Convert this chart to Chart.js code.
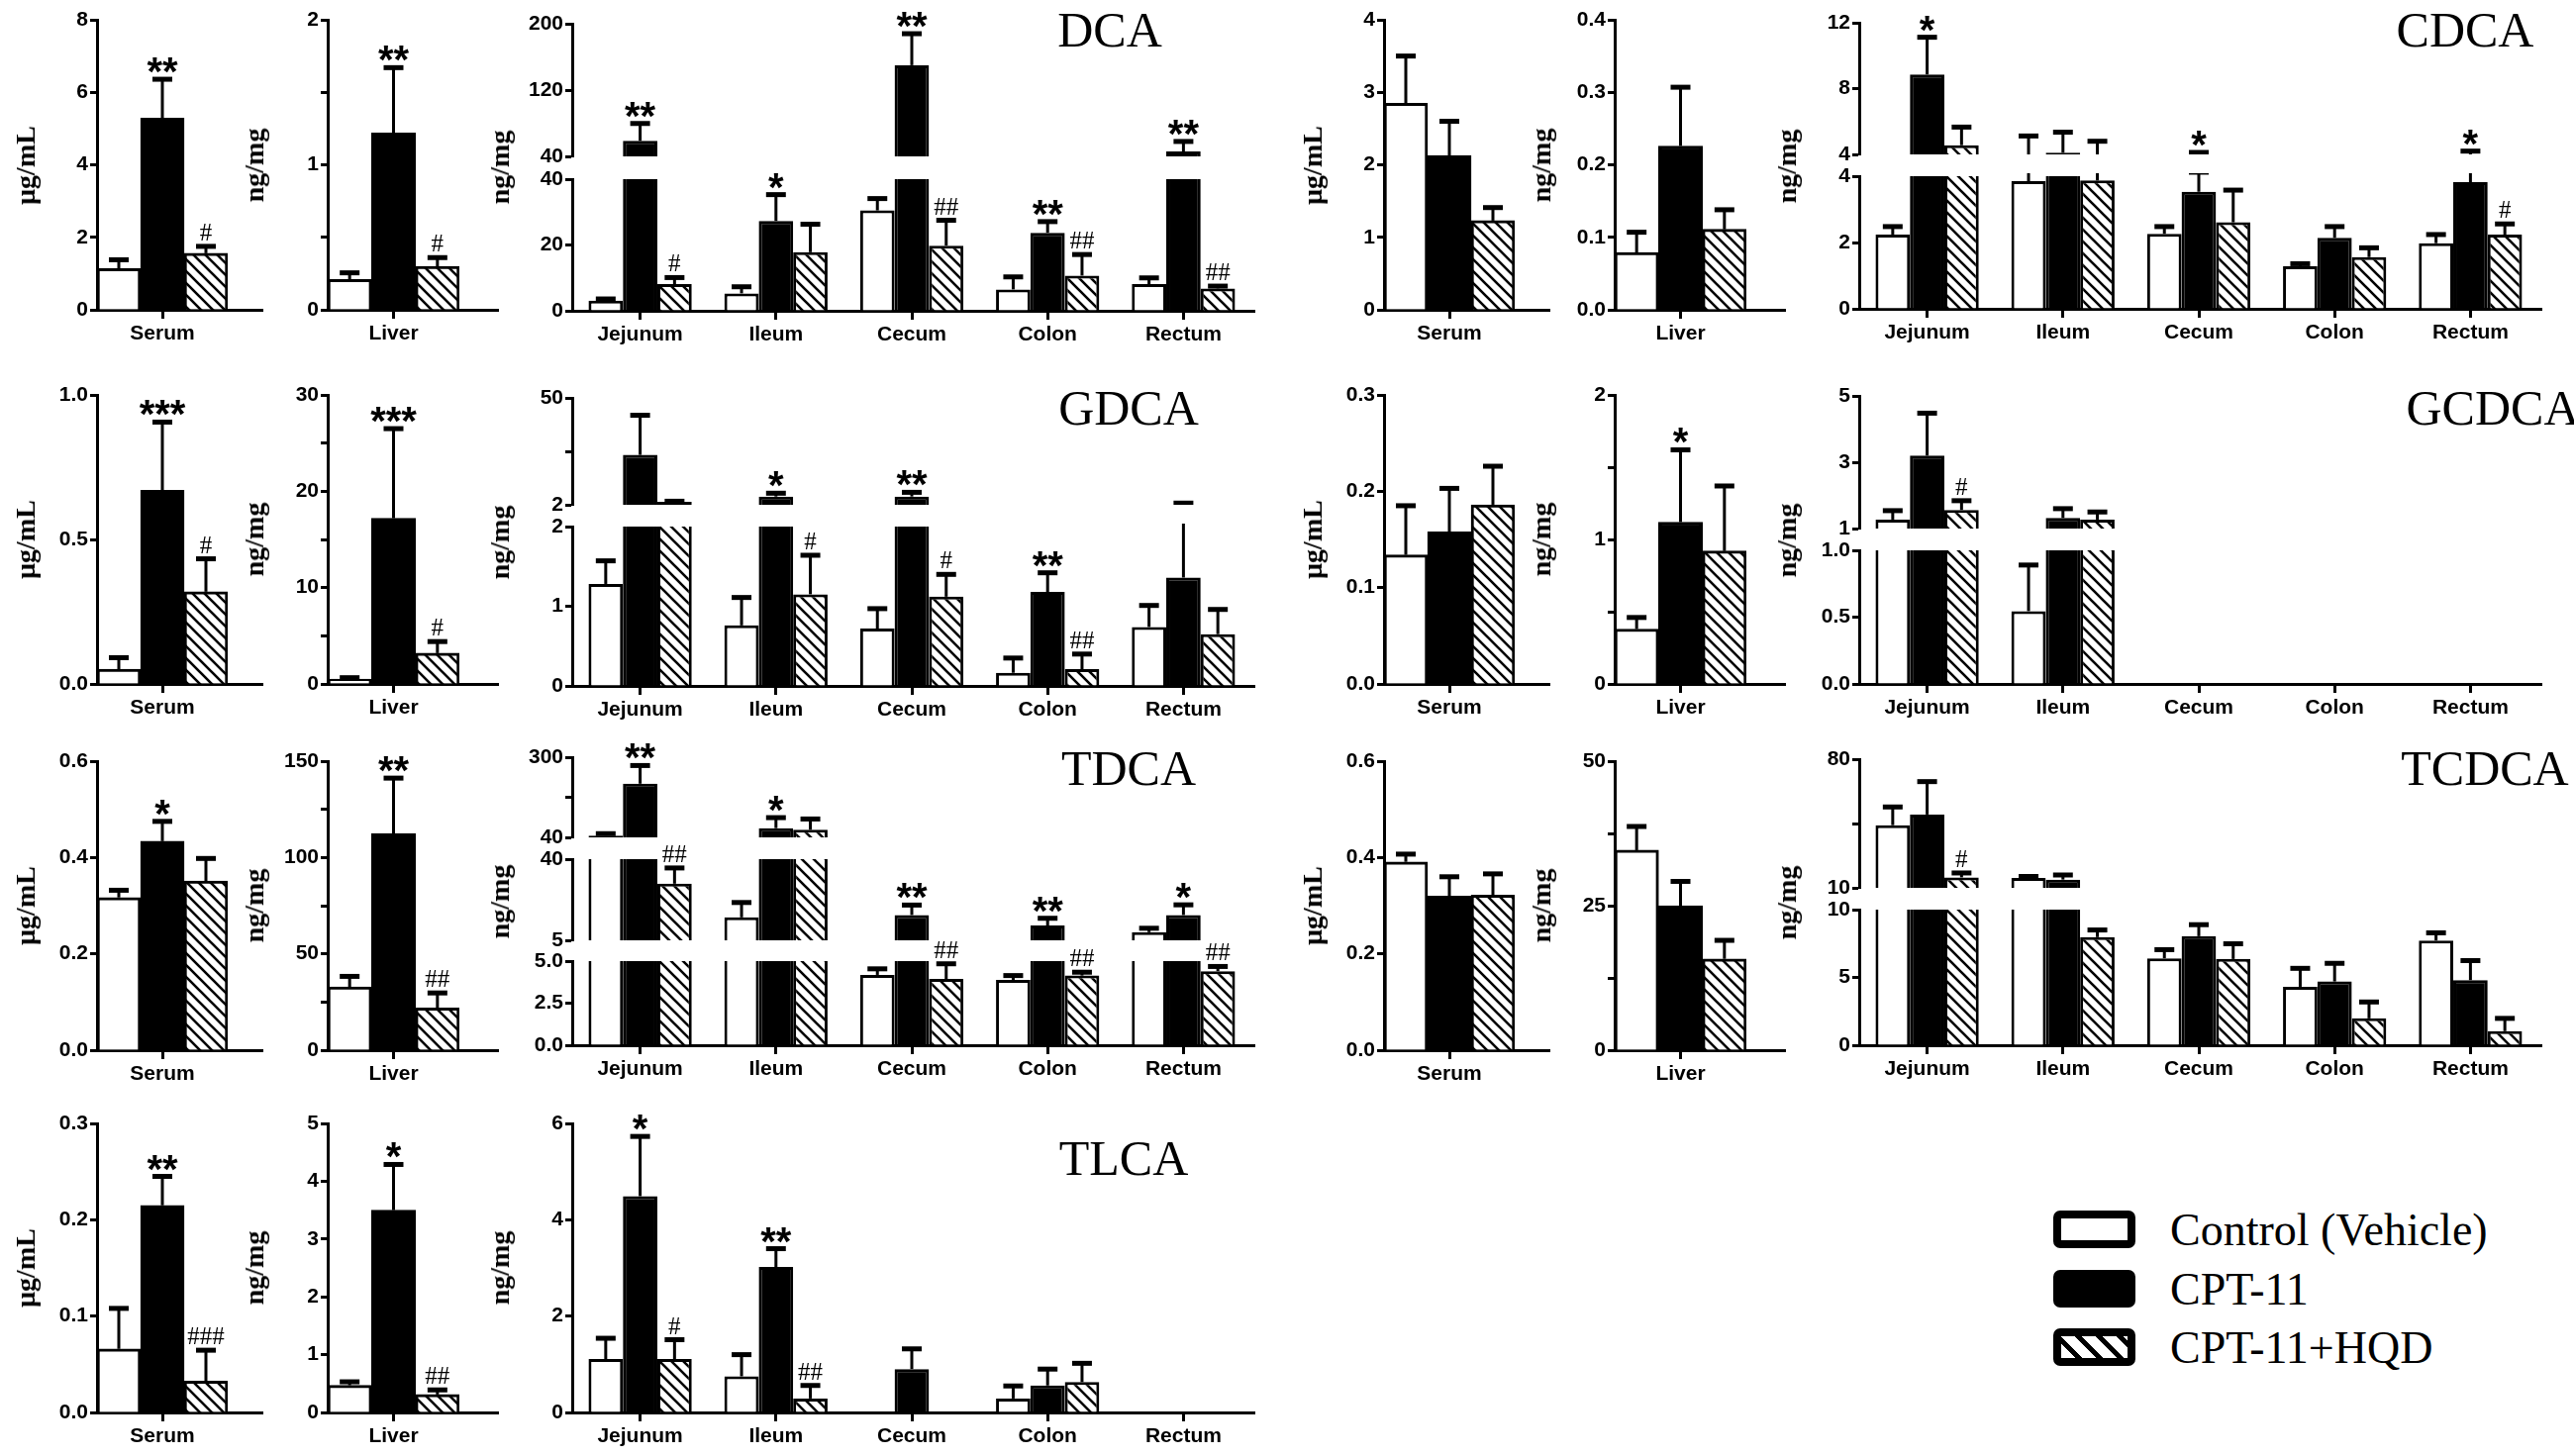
<!DOCTYPE html>
<html>
<head>
<meta charset="utf-8">
<title>Bile acids</title>
<script src="https://cdn.jsdelivr.net/npm/chart.js@4.4.1/dist/chart.umd.min.js"></script>
<style>
  body { margin: 0; background: #fff; }
  #page { position: relative; width: 2600px; height: 1471px; overflow: hidden; background: #fff; }
  #page canvas { position: absolute; }
  .title { position: absolute; font-family: "Liberation Serif", "Times New Roman", serif; font-size: 50px; transform: translate(-50%, -50%); white-space: nowrap; }
  .unit { position: absolute; font-family: "Liberation Serif", "Times New Roman", serif; font-weight: bold; font-size: 28px; transform: translate(-50%, -50%) rotate(-90deg); white-space: nowrap; }
  .lgbox { position: absolute; width: 83px; height: 38px; box-sizing: border-box; border: 8px solid #000; border-radius: 7px; }
  .lgtext { position: absolute; font-family: "Liberation Serif", "Times New Roman", serif; font-size: 46px; transform: translateY(-50%); white-space: nowrap; }
</style>
</head>
<body>
<div id="page"></div>
<script>
// ---- data ----
const groups = ['Control (Vehicle)', 'CPT-11', 'CPT-11+HQD'];
const serumCat = ['Serum'];
const liverCat = ['Liver'];
const gutCat = ['Jejunum', 'Ileum', 'Cecum', 'Colon', 'Rectum'];

// DCA
const dcaSerum = [1.14, 5.29, 1.56];
const dcaSerumSem = [0.24, 1.07, 0.19];
const dcaSerumSig = ['', '**', '#'];
const dcaSerumY = [0, 8, 2, ['0', '2', '4', '6', '8']];
const dcaLiver = [0.21, 1.22, 0.30];
const dcaLiverSem = [0.045, 0.45, 0.06];
const dcaLiverSig = ['', '**', '#'];
const dcaLiverY = [0, 2, 0.5, ['0', '', '1', '', '2']];
const dcaCtrl = [3.1, 5.3, 30.5, 6.5, 8.1];
const dcaCtrlSem = [0.5, 2.0, 3.6, 3.8, 1.9];
const dcaCpt = [58.7, 27.3, 150, 23.7, 46];
const dcaCptSem = [21, 8, 38, 3.4, 12];
const dcaCptSig = ['**', '*', '**', '**', '**'];
const dcaHqd = [8.1, 17.8, 19.8, 10.7, 6.8];
const dcaHqdSem = [2.0, 8.5, 7.7, 6.4, 0.7];
const dcaHqdSig = ['#', '', '##', '##', '##'];
const dcaGutY = [[0, 40, 20, ['0', '20', '40']], [40, 200, 80, ['40', '120', '200']]];

// CDCA
const cdcaSerum = [2.85, 2.13, 1.23];
const cdcaSerumSem = [0.65, 0.47, 0.18];
const cdcaSerumSig = ['', '', ''];
const cdcaSerumY = [0, 4, 1, ['0', '1', '2', '3', '4']];
const cdcaLiver = [0.079, 0.226, 0.111];
const cdcaLiverSem = [0.028, 0.081, 0.027];
const cdcaLiverSig = ['', '', ''];
const cdcaLiverY = [0, 0.4, 0.1, ['0.0', '0.1', '0.2', '0.3', '0.4']];
const cdcaCtrl = [2.24, 3.85, 2.26, 1.28, 1.98];
const cdcaCtrlSem = [0.24, 1.27, 0.22, 0.08, 0.26];
const cdcaCpt = [8.86, 4.1, 3.53, 2.14, 3.82];
const cdcaCptSem = [2.26, 1.25, 0.59, 0.34, 0.38];
const cdcaCptSig = ['*', '', '*', '', '*'];
const cdcaHqd = [4.56, 3.87, 2.61, 1.56, 2.24];
const cdcaHqdSem = [1.1, 0.93, 0.97, 0.28, 0.32];
const cdcaHqdSig = ['', '', '', '', '#'];
const cdcaGutY = [[0, 4, 2, ['0', '2', '4']], [4, 12, 4, ['4', '8', '12']]];

// GDCA
const gdcaSerum = [0.051, 0.67, 0.319];
const gdcaSerumSem = [0.04, 0.236, 0.114];
const gdcaSerumSig = ['', '***', '#'];
const gdcaSerumY = [0, 1, 0.5, ['0.0', '0.5', '1.0']];
const gdcaLiver = [0.5, 17.2, 3.2];
const gdcaLiverSem = [0.15, 9.3, 1.2];
const gdcaLiverSig = ['', '***', '#'];
const gdcaLiverY = [0, 30, 5, ['0', '', '10', '', '20', '', '30']];
const gdcaCtrl = [1.28, 0.76, 0.72, 0.165, 0.74];
const gdcaCtrlSem = [0.29, 0.35, 0.25, 0.185, 0.27];
const gdcaCpt = [24.4, 5.7, 5.7, 1.18, 1.36];
const gdcaCptSem = [17.8, 1.5, 1.9, 0.24, 1.4];
const gdcaCptSig = ['', '*', '**', '**', ''];
const gdcaHqd = [3.3, 1.15, 1.12, 0.21, 0.65];
const gdcaHqdSem = [0.3, 0.49, 0.28, 0.19, 0.31];
const gdcaHqdSig = ['', '#', '#', '##', ''];
const gdcaGutY = [[0, 2, 1, ['0', '1', '2']], [2, 50, 24, ['2', '', '50']]];

// GCDCA
const gcdcaSerum = [0.134, 0.158, 0.186];
const gcdcaSerumSem = [0.051, 0.045, 0.04];
const gcdcaSerumSig = ['', '', ''];
const gcdcaSerumY = [0, 0.3, 0.1, ['0.0', '0.1', '0.2', '0.3']];
const gcdcaLiver = [0.38, 1.12, 0.92];
const gcdcaLiverSem = [0.08, 0.5, 0.45];
const gcdcaLiverSig = ['', '*', ''];
const gcdcaLiverY = [0, 2, 0.5, ['0', '', '1', '', '2']];
const gcdcaCtrl = [1.27, 0.545, null, null, null];
const gcdcaCtrlSem = [0.27, 0.345, 0, 0, 0];
const gcdcaCpt = [3.2, 1.32, null, null, null];
const gcdcaCptSem = [1.28, 0.28, 0, 0, 0];
const gcdcaCptSig = ['', '', '', '', ''];
const gcdcaHqd = [1.56, 1.27, null, null, null];
const gcdcaHqdSem = [0.28, 0.23, 0, 0, 0];
const gcdcaHqdSig = ['#', '', '', '', ''];
const gcdcaGutY = [[0, 1, 0.5, ['0.0', '0.5', '1.0']], [1, 5, 2, ['1', '3', '5']]];

// TDCA
const tdcaSerum = [0.317, 0.434, 0.351];
const tdcaSerumSem = [0.015, 0.041, 0.047];
const tdcaSerumSig = ['', '*', ''];
const tdcaSerumY = [0, 0.6, 0.2, ['0.0', '0.2', '0.4', '0.6']];
const tdcaLiver = [32.8, 112.4, 21.9];
const tdcaLiverSem = [5.5, 28.8, 7.8];
const tdcaLiverSig = ['', '**', '##'];
const tdcaLiverY = [0, 150, 25, ['0', '', '50', '', '100', '', '150']];
const tdcaCtrl = [46, 14.9, 4.18, 3.88, 8.5];
const tdcaCtrlSem = [6, 6.4, 0.36, 0.26, 1.7];
const tdcaCpt = [214, 70, 15.9, 11.4, 15.9];
const tdcaCptSem = [59, 34, 4.3, 3.1, 4.4];
const tdcaCptSig = ['**', '*', '**', '**', '*'];
const tdcaHqd = [29.4, 64.6, 3.94, 4.14, 4.4];
const tdcaHqdSem = [6.8, 35, 0.9, 0.2, 0.28];
const tdcaHqdSig = ['##', '', '##', '##', '##'];
const tdcaGutY = [[0, 5, 2.5, ['0.0', '2.5', '5.0']], [5, 40, 35, ['5', '40']], [40, 300, 130, ['40', '', '300']]];

// TCDCA
const tcdcaSerum = [0.391, 0.32, 0.322];
const tcdcaSerumSem = [0.016, 0.04, 0.044];
const tcdcaSerumSig = ['', '', ''];
const tcdcaSerumY = [0, 0.6, 0.2, ['0.0', '0.2', '0.4', '0.6']];
const tcdcaLiver = [34.6, 25.0, 15.8];
const tcdcaLiverSem = [4.1, 4.2, 3.2];
const tcdcaLiverSig = ['', '', ''];
const tcdcaLiverY = [0, 50, 12.5, ['0', '', '25', '', '50']];
const tcdcaCtrl = [44.1, 15.4, 6.41, 4.31, 7.72];
const tcdcaCtrlSem = [9.9, 0.8, 0.64, 1.36, 0.57];
const tcdcaCpt = [49.9, 14.5, 8.04, 4.7, 4.8];
const tcdcaCptSem = [17.9, 2.5, 0.85, 1.34, 1.44];
const tcdcaCptSig = ['', '', '', '', ''];
const tcdcaHqd = [15.7, 7.97, 6.36, 1.98, 1.04];
const tcdcaHqdSem = [2.4, 0.53, 1.12, 1.21, 0.94];
const tcdcaHqdSig = ['#', '', '', '', ''];
const tcdcaGutY = [[0, 10, 5, ['0', '5', '10']], [10, 80, 35, ['10', '', '80']]];

// TLCA
const tlcaSerum = [0.066, 0.215, 0.0326];
const tlcaSerumSem = [0.042, 0.03, 0.032];
const tlcaSerumSig = ['', '**', '###'];
const tlcaSerumY = [0, 0.3, 0.1, ['0.0', '0.1', '0.2', '0.3']];
const tlcaLiver = [0.47, 3.5, 0.31];
const tlcaLiverSem = [0.06, 0.79, 0.08];
const tlcaLiverSig = ['', '*', '##'];
const tlcaLiverY = [0, 5, 1, ['0', '1', '2', '3', '4', '5']];
const tlcaCtrl = [1.11, 0.75, null, 0.29, null];
const tlcaCtrlSem = [0.43, 0.45, 0, 0.26, 0];
const tlcaCpt = [4.49, 3.02, 0.9, 0.56, null];
const tlcaCptSem = [1.24, 0.38, 0.42, 0.34, 0];
const tlcaCptSig = ['*', '**', '', '', ''];
const tlcaHqd = [1.11, 0.29, null, 0.63, null];
const tlcaHqdSem = [0.4, 0.27, 0, 0.39, 0];
const tlcaHqdSig = ['#', '##', '', '', ''];
const tlcaGutY = [[0, 6, 2, ['0', '2', '4', '6']]];

// ---- layout (pixels) ----
const SER = { axis: 98, right: 230, end: 266, cat: 1.0 };
const LIV = { axis: 331, right: 464, end: 504, cat: 1.0 };
const GUT = { axis: 578, right: 1264, end: 1268, cat: 0.76 };
const rowPx = [[313, 20], [691, 399], [1061, 769], [1427, 1135]];
const PAD_TOP = 44, PAD_BOT = 16, X_H = 46, Y_W = 64;

const page = document.getElementById('page');
Chart.defaults.font.family = '"Liberation Sans", Arial, sans-serif';
Chart.defaults.color = '#000';

// hatch tile for CPT-11+HQD
const tile = document.createElement('canvas');
tile.width = 12; tile.height = 12;
(function () {
  const g = tile.getContext('2d');
  g.fillStyle = '#fff'; g.fillRect(0, 0, 12, 12);
  g.strokeStyle = '#000'; g.lineWidth = 2.6;
  g.beginPath();
  g.moveTo(-3, -3); g.lineTo(15, 15);
  g.moveTo(-3, 9); g.lineTo(3, 15);
  g.moveTo(9, -3); g.lineTo(15, 3);
  g.stroke();
})();

// upper SEM bars + significance marks
const errorBars = {
  id: 'errorBars',
  afterDatasetsDraw(chart) {
    const c = chart.ctx, a = chart.chartArea, ys = chart.scales.y, xs = chart.scales.x;
    const n = chart.data.labels.length;
    chart.data.datasets.forEach(function (ds, i) {
      const catW = (xs.right - xs.left) / n * ds.categoryPercentage;
      const bw = catW / 3;
      ds.full.forEach(function (v, j) {
        if (v == null) return;
        const top = v + ds.errs[j];
        // nothing of this bar's SEM falls inside this segment
        if (top < ys.min || v >= ys.max) return;
        const py = ys.getPixelForValue(top);
        const x = xs.getPixelForValue(j) - catW / 2 + bw * (i + 0.5);
        c.save();
        c.beginPath();
        c.rect(a.left, a.top - 3, a.right - a.left, a.bottom - a.top + 3);
        c.clip();
        c.strokeStyle = '#000';
        c.lineWidth = 3;
        c.beginPath();
        c.moveTo(x, ys.getPixelForValue(Math.max(v, ys.min)));
        c.lineTo(x, py);
        c.stroke();
        c.lineWidth = 5;
        c.beginPath();
        c.moveTo(x - 10, py);
        c.lineTo(x + 10, py);
        c.stroke();
        c.restore();
        const s = ds.sig ? ds.sig[j] : '';
        if (s && top <= ys.max) {
          c.save();
          c.fillStyle = '#000';
          c.textAlign = 'center';
          c.textBaseline = 'alphabetic';
          if (s.indexOf('*') >= 0) {
            c.font = 'bold 40px "Liberation Sans", Arial, sans-serif';
            c.fillText(s, x, py + 6);
          } else {
            c.font = '25px "Liberation Serif", "Times New Roman", serif';
            c.fillText(s, x, py - 6);
          }
          c.restore();
        }
      });
    });
  }
};

// x axis line runs on past the last bar
const axisExt = {
  id: 'axisExt',
  afterDraw(chart, args, opts) {
    if (!chart.options.scales.x.display || !opts.len) return;
    const c = chart.ctx, a = chart.chartArea;
    c.save();
    c.strokeStyle = '#000';
    c.lineWidth = 3;
    c.beginPath();
    c.moveTo(a.right - 1, a.bottom + 0.5);
    c.lineTo(a.right + opts.len, a.bottom + 0.5);
    c.stroke();
    c.restore();
  }
};

function panel(bx, geo, y0, y1, yAx, labels, sets, showX) {
  const cv = document.createElement('canvas');
  const extra = geo.end - geo.right + 6;
  cv.width = Y_W + (geo.right - geo.axis) + extra;
  cv.height = PAD_TOP + (y0 - y1) + (showX ? X_H : PAD_BOT);
  cv.style.left = (bx + geo.axis - Y_W) + 'px';
  cv.style.top = (y1 - PAD_TOP) + 'px';
  page.appendChild(cv);
  const fills = ['#fff', '#000', cv.getContext('2d').createPattern(tile, 'repeat')];

  new Chart(cv, {
    type: 'bar',
    data: {
      labels: labels,
      datasets: sets.map(function (s, i) {
        return {
          label: groups[i],
          // a bar only shows in a segment if it rises above the segment floor
          data: s[0].map(function (v) { return (v != null && v > yAx[0]) ? v : null; }),
          full: s[0],
          errs: s[1],
          sig: s[2],
          backgroundColor: fills[i],
          borderColor: '#000',
          borderWidth: 3,
          borderSkipped: 'start',
          clip: 0,
          categoryPercentage: geo.cat,
          barPercentage: 1.0
        };
      })
    },
    options: {
      responsive: false,
      animation: false,
      events: [],
      layout: { padding: { top: PAD_TOP, bottom: showX ? 0 : PAD_BOT, left: 0, right: extra } },
      plugins: {
        legend: { display: false },
        tooltip: { enabled: false },
        axisExt: { len: geo.end - geo.right }
      },
      scales: {
        x: {
          display: showX,
          grid: { drawOnChartArea: false, offset: false, tickLength: 9, tickWidth: 3, tickColor: '#000' },
          border: { display: true, color: '#000', width: 3 },
          ticks: { font: { size: 21, weight: 'bold' }, color: '#000', padding: 3, maxRotation: 0, autoSkip: false },
          afterFit: function (s) { s.height = showX ? X_H : 0; }
        },
        y: {
          min: yAx[0],
          max: yAx[1],
          grid: { drawOnChartArea: false, tickLength: 7, tickWidth: 3, tickColor: '#000' },
          border: { display: true, color: '#000', width: 3 },
          ticks: {
            stepSize: yAx[2],
            autoSkip: false,
            font: { size: 21, weight: 'bold' },
            color: '#000',
            padding: 2,
            callback: function (v, i) { return yAx[3][i]; }
          },
          afterFit: function (s) { s.width = Y_W; }
        }
      }
    },
    plugins: [errorBars, axisExt]
  });
}

function text(cls, str, x, y) {
  const d = document.createElement('div');
  d.className = cls;
  d.textContent = str;
  d.style.left = x + 'px';
  d.style.top = y + 'px';
  page.appendChild(d);
}

function acid(name, bx, row, ser, liv, gut, gutY, gutPx, tPos) {
  const y0 = rowPx[row][0], y1 = rowPx[row][1];
  panel(bx, SER, y0, y1, ser[3], serumCat, [0, 1, 2].map(function (i) { return [[ser[0][i]], [ser[1][i]], [ser[2][i]]]; }), true);
  panel(bx, LIV, y0, y1, liv[3], liverCat, [0, 1, 2].map(function (i) { return [[liv[0][i]], [liv[1][i]], [liv[2][i]]]; }), true);
  gutY.forEach(function (ax, k) {
    panel(bx, GUT, gutPx[k][0], gutPx[k][1], ax, gutCat, gut, k === 0);
  });
  const mid = (y0 + y1) / 2;
  const gmid = (gutPx[0][0] + gutPx[gutPx.length - 1][1]) / 2;
  text('unit', 'μg/mL', bx + 26, mid);
  text('unit', 'ng/mg', bx + 257, mid);
  text('unit', 'ng/mg', bx + 505, gmid);
  text('title', name, tPos[0], tPos[1]);
}

acid('DCA', 0, 0,
  [dcaSerum, dcaSerumSem, dcaSerumSig, dcaSerumY],
  [dcaLiver, dcaLiverSem, dcaLiverSig, dcaLiverY],
  [[dcaCtrl, dcaCtrlSem, []], [dcaCpt, dcaCptSem, dcaCptSig], [dcaHqd, dcaHqdSem, dcaHqdSig]],
  dcaGutY, [[314, 181], [158, 24]], [1121, 30]);

acid('CDCA', 1300, 0,
  [cdcaSerum, cdcaSerumSem, cdcaSerumSig, cdcaSerumY],
  [cdcaLiver, cdcaLiverSem, cdcaLiverSig, cdcaLiverY],
  [[cdcaCtrl, cdcaCtrlSem, []], [cdcaCpt, cdcaCptSem, cdcaCptSig], [cdcaHqd, cdcaHqdSem, cdcaHqdSig]],
  cdcaGutY, [[312, 178], [156, 23]], [2490, 30]);

acid('GDCA', 0, 1,
  [gdcaSerum, gdcaSerumSem, gdcaSerumSig, gdcaSerumY],
  [gdcaLiver, gdcaLiverSem, gdcaLiverSig, gdcaLiverY],
  [[gdcaCtrl, gdcaCtrlSem, []], [gdcaCpt, gdcaCptSem, gdcaCptSig], [gdcaHqd, gdcaHqdSem, gdcaHqdSig]],
  gdcaGutY, [[693, 532], [510, 402]], [1140, 412]);

acid('GCDCA', 1300, 1,
  [gcdcaSerum, gcdcaSerumSem, gcdcaSerumSig, gcdcaSerumY],
  [gcdcaLiver, gcdcaLiverSem, gcdcaLiverSig, gcdcaLiverY],
  [[gcdcaCtrl, gcdcaCtrlSem, []], [gcdcaCpt, gcdcaCptSem, gcdcaCptSig], [gcdcaHqd, gcdcaHqdSem, gcdcaHqdSig]],
  gcdcaGutY, [[691, 556], [534, 400]], [2518, 412]);

acid('TDCA', 0, 2,
  [tdcaSerum, tdcaSerumSem, tdcaSerumSig, tdcaSerumY],
  [tdcaLiver, tdcaLiverSem, tdcaLiverSig, tdcaLiverY],
  [[tdcaCtrl, tdcaCtrlSem, []], [tdcaCpt, tdcaCptSem, tdcaCptSig], [tdcaHqd, tdcaHqdSem, tdcaHqdSig]],
  tdcaGutY, [[1056, 971], [950, 868], [846, 765]], [1140, 776]);

acid('TCDCA', 1300, 2,
  [tcdcaSerum, tcdcaSerumSem, tcdcaSerumSig, tcdcaSerumY],
  [tcdcaLiver, tcdcaLiverSem, tcdcaLiverSig, tcdcaLiverY],
  [[tcdcaCtrl, tcdcaCtrlSem, []], [tcdcaCpt, tcdcaCptSem, tcdcaCptSig], [tcdcaHqd, tcdcaHqdSem, tcdcaHqdSig]],
  tcdcaGutY, [[1056, 919], [897, 767]], [2510, 776]);

acid('TLCA', 0, 3,
  [tlcaSerum, tlcaSerumSem, tlcaSerumSig, tlcaSerumY],
  [tlcaLiver, tlcaLiverSem, tlcaLiverSig, tlcaLiverY],
  [[tlcaCtrl, tlcaCtrlSem, []], [tlcaCpt, tlcaCptSem, tlcaCptSig], [tlcaHqd, tlcaHqdSem, tlcaHqdSig]],
  tlcaGutY, [[1427, 1135]], [1135, 1170]);

// legend
const legendFill = ['#fff', '#000', 'repeating-linear-gradient(45deg, #fff 0px, #fff 10px, #000 10px, #000 15px)'];
groups.forEach(function (g, i) {
  const y = 1223 + i * 59.5;
  const b = document.createElement('div');
  b.className = 'lgbox';
  b.style.left = '2074px';
  b.style.top = y + 'px';
  b.style.background = legendFill[i];
  page.appendChild(b);
  text('lgtext', g, 2192, y + 19);
});
</script>
</body>
</html>
